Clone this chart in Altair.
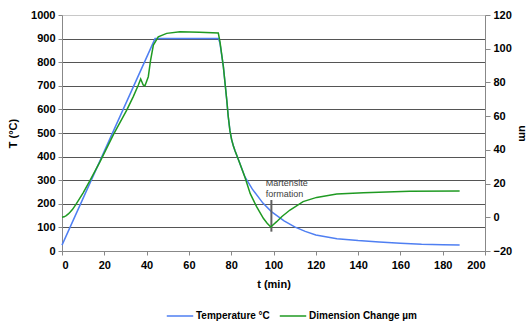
import altair as alt
import pandas as pd

# Temperature series (left axis, °C)
temp_t = [0, 44, 74, 74.7, 76.3, 77.9, 78.6, 79.4, 80.2, 81, 81.8, 83.7, 86.5, 90, 95, 99, 105, 110, 115, 120, 130, 140, 150, 160, 170, 180, 188]
temp_v = [25, 900, 900, 880, 781, 640, 570, 510, 472, 446, 425, 380, 314, 262, 203, 167, 128, 102, 83, 68, 52, 44, 38, 33, 29, 27, 25]

# Dimension change series (right axis, µm)
dim_t = [0, 1, 2, 3, 4, 5, 6.6, 10, 13.2, 18, 24.3, 30.6, 33.7, 36.1, 37.2, 38.4, 39.2, 40.8, 41.9, 43.2, 45.5, 49.5,
         55.8, 65, 73.9, 74.7, 76.3, 77.9, 78.6, 79.4, 80.2, 81, 81.8, 83.7, 86.5, 89, 92, 95.2, 97, 98.7, 100, 101.5, 104, 107.8,
         114, 120.4, 129.9, 142.5, 164.5, 188]
dim_v = [0, 0.3, 1.0, 2.0, 3.3, 4.7, 7.7, 14.5, 21.7, 33, 49, 63.6, 71.6, 78.5, 82, 78.5, 77.9, 83.4, 93.3, 102.2, 107.1, 109.1,
         110, 109.8, 109.3, 104, 89.3, 69.6, 59.8, 51.4, 46.1, 42.4, 39.5, 33.2, 23.8, 14, 6.3, -0.6, -3.5, -5.8, -4.3, -2.6, 0.5, 4.3,
         9.3, 11.8, 13.8, 14.6, 15.4, 15.6]

series_names = ["Temperature °C", "Dimension Change µm"]
series_colors = ["#4F7FF2", "#1F9A22"]

left_ticks = list(range(0, 1001, 100))
right_ticks = list(range(-20, 121, 20))
x_ticks = list(range(0, 201, 20))

# Annotation
ann_t = [96.3]
ann_T = [305]
ann_text = ["Martensite\nformation"]
mark_t = [99]
mark_T_top = [216]
mark_T_bot = [82]

temp_df = pd.DataFrame({"t": temp_t, "v": temp_v, "series": series_names[0]})
dim_df = pd.DataFrame({"t": dim_t, "v": dim_v, "series": series_names[1]})
ann_df = pd.DataFrame({"t": ann_t, "T": ann_T, "text": ann_text})
mark_df = pd.DataFrame({"t": mark_t, "T1": mark_T_top, "T2": mark_T_bot})

FONT = "Liberation Sans"

color_scale = alt.Scale(domain=series_names, range=series_colors)
legend = alt.Legend(
    title=None, orient="none", direction="horizontal", legendX=104, legendY=287,
    symbolType="stroke", symbolSize=700, symbolStrokeWidth=1.5,
    labelFont=FONT, labelFontSize=10, labelFontWeight="bold", labelColor="#000",
    columnPadding=6, symbolOffset=0, labelOffset=2,
)

x_scale = alt.Scale(domain=[0, 200], nice=False)
left_scale = alt.Scale(domain=[0, 1000], nice=False)
right_scale = alt.Scale(domain=[-20, 120], nice=False)

x_axis = alt.Axis(title="t (min)", values=x_ticks, grid=False, labelOverlap=False,
                  domainColor="#888", tickColor="#888", tickSize=4,
                  labelFont=FONT, labelFontSize=11, labelFontWeight="bold", labelColor="#000",
                  labelPadding=4, titleFont=FONT, titleFontSize=11, titleFontWeight="bold",
                  titleColor="#000", titlePadding=8)

y_axis = alt.Axis(title="T (°C)", values=left_ticks, grid=True, labelOverlap=False, format="d",
                  gridColor=alt.condition(alt.datum.value == 1000, alt.value("#c8c8c8"), alt.value("#555555")),
                  gridWidth=1, domainColor="#888", tickColor="#888", tickSize=4,
                  labelFont=FONT, labelFontSize=11, labelFontWeight="bold", labelColor="#000",
                  labelPadding=3, titleFont=FONT, titleFontSize=11, titleFontWeight="bold",
                  titleColor="#000", titlePadding=12)

temp_line = alt.Chart(temp_df).mark_line(strokeWidth=1.5).encode(
    x=alt.X("t:Q", scale=x_scale, axis=x_axis),
    y=alt.Y("v:Q", scale=left_scale, axis=y_axis),
    color=alt.Color("series:N", scale=color_scale, legend=legend),
)

ann = alt.Chart(ann_df).mark_text(align="left", baseline="top", fontSize=9, font=FONT,
                                  color="#404040", lineBreak="\n", lineHeight=11).encode(
    x=alt.X("t:Q", scale=x_scale, axis=x_axis),
    y=alt.Y("T:Q", scale=left_scale, axis=y_axis),
    text="text:N",
)

marker = alt.Chart(mark_df).mark_rule(color="#606060", strokeWidth=2).encode(
    x=alt.X("t:Q", scale=x_scale, axis=x_axis),
    y=alt.Y("T1:Q", scale=left_scale, axis=y_axis),
    y2="T2:Q",
)

dim_line = alt.Chart(dim_df).mark_line(strokeWidth=1.5).encode(
    x=alt.X("t:Q", scale=x_scale, axis=x_axis),
    y=alt.Y("v:Q", scale=right_scale,
            axis=alt.Axis(orient="right", title="um", values=right_ticks, grid=False, labelOverlap=False,
                          domainColor="#888", tickColor="#888", tickSize=5,
                          labelFont=FONT, labelFontSize=11, labelFontWeight="bold", labelColor="#000",
                          labelPadding=3, titleFont=FONT, titleFontSize=11, titleFontWeight="bold",
                          titleColor="#000", titlePadding=5, titleAngle=90)),
    color=alt.Color("series:N", scale=color_scale, legend=legend),
)

left = alt.layer(temp_line, marker, ann)
chart = alt.layer(left, dim_line).resolve_scale(y="independent").properties(
    width=423, height=236,
    padding={"left": 62, "top": 15, "right": 43, "bottom": 76},
    autosize="none",
).configure_view(stroke=None).configure(background="white")

chart.save("out.html", embed_options={"renderer": "svg", "actions": False})
